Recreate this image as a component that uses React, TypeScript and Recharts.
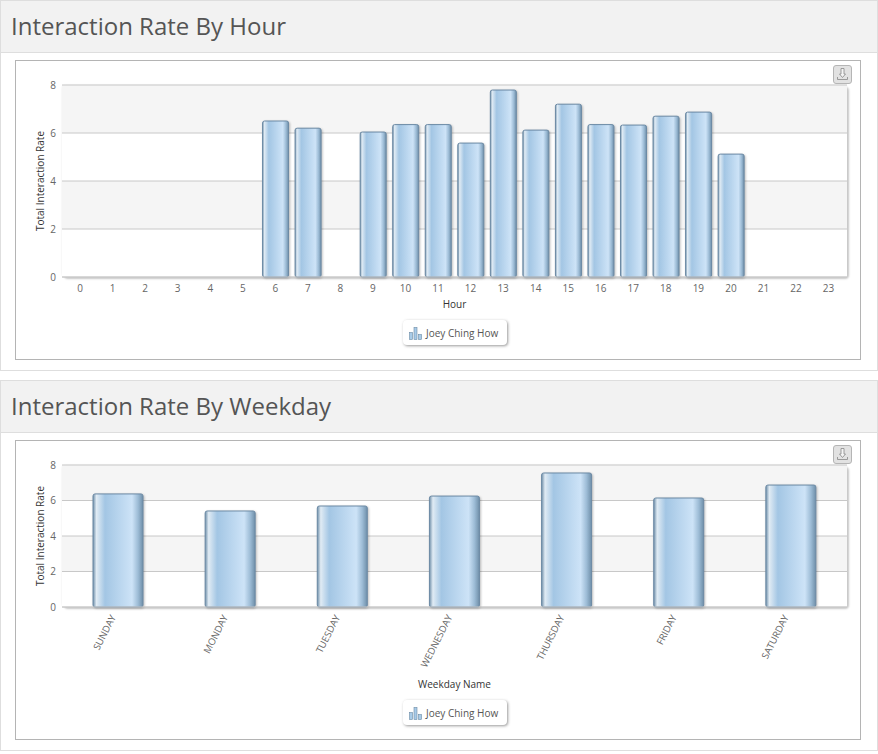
import { BarChart, Bar, XAxis, YAxis, CartesianGrid, Legend } from 'recharts'

const hours = ['0', '1', '2', '3', '4', '5', '6', '7', '8', '9', '10', '11', '12', '13', '14', '15', '16', '17', '18', '19', '20', '21', '22', '23']
const hourRates = [null, null, null, null, null, null, 6.5, 6.2, null, 6.04, 6.35, 6.35, 5.58, 7.79, 6.12, 7.2, 6.35, 6.33, 6.7, 6.87, 5.12, null, null, null]
const weekdays = ['SUNDAY', 'MONDAY', 'TUESDAY', 'WEDNESDAY', 'THURSDAY', 'FRIDAY', 'SATURDAY']
const weekdayRates = [6.37, 5.41, 5.69, 6.25, 7.55, 6.14, 6.87]
const yTicks = [0, 2, 4, 6, 8]
const seriesName = 'Joey Ching How'

const font = '"Open Sans", sans-serif'
const hourData = hours.map((h, i) => ({ name: h, rate: hourRates[i] }))
const weekdayData = weekdays.map((d, i) => ({ name: d, rate: weekdayRates[i] }))

const LegendButton = () => (
  <div style={{
    width: 104, height: 25, boxSizing: 'border-box', background: '#fff', borderRadius: 4,
    boxShadow: '1px 1px 3px #999', display: 'flex', alignItems: 'center', paddingLeft: 6,
    gap: 3, fontFamily: font, fontSize: 10, color: '#555',
  }}>
    <svg width={14} height={14}>
      <rect x={0.5} y={6.5} width={3} height={7} fill="#a8cbe8" stroke="#6c8aa5" strokeWidth={0.6} />
      <rect x={5} y={1.5} width={3} height={12} fill="#a8cbe8" stroke="#6c8aa5" strokeWidth={0.6} />
      <rect x={9.5} y={8.5} width={3} height={5} fill="#a8cbe8" stroke="#6c8aa5" strokeWidth={0.6} />
    </svg>
    <span>{seriesName}</span>
  </div>
)

const DownloadButton = () => (
  <div style={{
    position: 'absolute', left: 818, top: 5, width: 19, height: 19, boxSizing: 'border-box',
    background: '#e2e2e2', border: '1px solid #b5b5b5', borderRadius: 3,
  }}>
    <svg width={17} height={17} style={{ display: 'block' }}>
      <path d="M7 2.5 H10 V8 H11.5 L8.5 11.5 L5.5 8 H7 Z" fill="#f4f4f4" stroke="#888" strokeWidth={0.8} />
      <path d="M3.5 11 V13.5 H13.5 V11" fill="none" stroke="#888" strokeWidth={0.8} />
    </svg>
  </div>
)

type PanelProps = {
  top: number
  title: string
  data: { name: string; rate: number | null }[]
  xLabel: string
  gradientId: string
  barSize: number
  axisHeight: number
  rotated?: boolean
}

function Panel({ top, title, data, xLabel, gradientId, barSize, axisHeight, rotated }: PanelProps) {
  // the legend reserves 25px below the x axis
  const plotHeight = 299 - 25 - 25 - axisHeight
  return (
    <div style={{ position: 'absolute', left: 0, top, width: 878, height: 371, boxSizing: 'border-box', border: '1px solid #dedede' }}>
      <div style={{
        height: 52, boxSizing: 'border-box', background: '#f2f2f2', borderBottom: '1px solid #dedede',
        fontFamily: font, fontSize: 24, color: '#555', lineHeight: '49px', paddingLeft: 10,
      }}>
        {title}
      </div>
      <div style={{ position: 'absolute', left: 14, top: 59, width: 846, height: 300, boxSizing: 'border-box', border: '1px solid #b4b4b4' }} />
      {/* plot frame shadow sits behind the transparent chart */}
      <div style={{
        position: 'absolute', left: 61, top: 84, width: 785, height: plotHeight, borderRadius: 4,
        background: '#fff', boxShadow: '2px 2px 2px #c8c8c8, 0 0 2px #e4e4e4',
      }} />
      <div style={{ position: 'absolute', left: 14, top: 59 }}>
        <BarChart width={845} height={299} data={data} margin={{ top: 25, right: 13, left: 0, bottom: 0 }}>
          <defs>
            <linearGradient id={gradientId} x1="0" y1="0" x2="1" y2="0">
              <stop offset="0%" stopColor="#6f8fa9" />
              <stop offset="7%" stopColor="#e0ebf4" />
              <stop offset="24%" stopColor="#a3c6e4" />
              <stop offset="78%" stopColor="#cde3f7" />
              <stop offset="90%" stopColor="#9dbcd6" />
              <stop offset="100%" stopColor="#6f8fa9" />
            </linearGradient>
          </defs>
          <CartesianGrid vertical={false} stroke="#c8c8c8" horizontalFill={['#f5f5f5', '#ffffff']} />
          <XAxis
            dataKey="name"
            interval={0}
            height={axisHeight}
            padding={rotated ? undefined : { left: 2.3, right: 1.7 }}
            tickLine={false}
            axisLine={{ stroke: '#cccccc' }}
            tick={{ fontSize: rotated ? 9.6 : 10, fill: '#666', fontFamily: font, dx: rotated ? -8 : -0.5 }}
            angle={rotated ? -63 : 0}
            textAnchor={rotated ? 'end' : 'middle'}
            tickMargin={rotated ? 1 : 2}
            label={{ value: xLabel, position: 'insideBottom', offset: 26, style: { fontSize: 10, fontWeight: 400, fill: '#333', fontFamily: font } }}
          />
          <YAxis
            width={47}
            domain={[0, 8]}
            ticks={yTicks}
            tickLine={false}
            axisLine={false}
            tickMargin={0}
            tick={{ fontSize: 10, fill: '#666', fontFamily: font }}
            label={{ value: 'Total Interaction Rate', angle: -90, position: 'insideLeft', offset: 25, style: { textAnchor: 'middle', fontSize: 10, fontWeight: 400, fill: '#333', fontFamily: font } }}
          />
          <Legend
            content={<LegendButton />}
            wrapperStyle={{ position: 'absolute', left: 388, top: 260, width: 104, height: 25 }}
          />
          <Bar
            dataKey="rate"
            name={seriesName}
            barSize={barSize}
            fill={`url(#${gradientId})`}
            stroke="#6c8aa5"
            radius={2}
            style={{ filter: 'drop-shadow(1px 1px 1px rgba(0,0,0,0.25))' }}
            isAnimationActive={false}
          />
        </BarChart>
        <DownloadButton />
      </div>
    </div>
  )
}

export default function App() {
  return (
    <div style={{ position: 'absolute', left: 0, top: 0, width: 878, height: 754, background: '#fff', overflow: 'hidden' }}>
      <Panel top={0} title="Interaction Rate By Hour" data={hourData} xLabel="Hour" gradientId="barHour" barSize={26} axisHeight={57} />
      <Panel top={380} title="Interaction Rate By Weekday" data={weekdayData} xLabel="Weekday Name" gradientId="barDay" barSize={50} axisHeight={107} rotated />
    </div>
  )
}
